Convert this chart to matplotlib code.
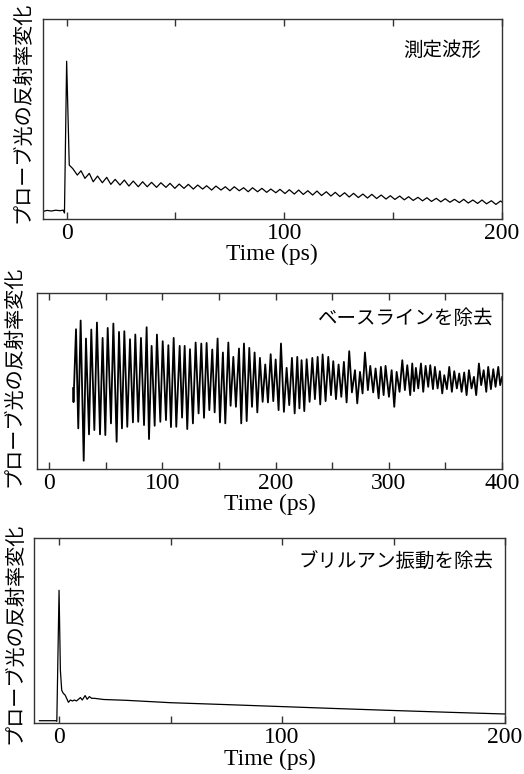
import matplotlib
matplotlib.use('Agg')
import matplotlib.pyplot as plt
from matplotlib.ticker import MultipleLocator

# --- panel 1: measured waveform (arb. units) ---
t_raw = [-11, -9, -7, -5, -3, -1.6, -1.0, 0.0, 1.2, 2.8, 4.9, 6.6, 8.4, 10.4, 12.2, 14.2,
         16.4, 18.4, 20.3, 22.3, 24.5, 26.5, 28.6, 30.6, 32.9, 34.9, 37.0, 39.0, 41.3, 43.3,
         45.6, 47.5, 49.7, 51.7, 53.9, 55.9, 58.2, 60.2, 62.5, 64.3, 66.6, 68.6, 70.9, 72.9,
         75.0, 77.0, 79.3, 81.3, 83.4, 85.4, 87.7, 89.7, 91.9, 93.8, 96.1, 98.0,
         100.3, 102.3, 104.6, 106.6, 108.7, 110.8, 113.0, 115.0, 117.1, 119.3, 121.4, 123.4,
         125.5, 127.7, 129.8, 131.8, 134.0, 136.1, 138.2, 140.2, 142.4, 144.5, 146.7, 148.7,
         150.8, 153.0, 155.1, 157.1, 159.2, 161.4, 163.5, 165.5, 167.6, 169.8, 171.9, 173.9,
         176.1, 178.2, 180.4, 182.4, 184.5, 186.6, 188.8, 190.8, 192.9, 195.1, 197.2, 199.3, 200]
r_raw = [7.5, 8.6, 8.0, 8.8, 8.3, 8.9, 6.0, 158, 54, 50.5, 44, 48.3, 40.7, 45.7, 37.3, 43,
         36.3, 41.7, 34.7, 39.7, 34, 39, 33, 38, 32.3, 37.3, 32.3, 36.7, 31.7, 36.3,
         31.7, 35.7, 30.7, 35, 30.7, 34.7, 30, 34, 30, 33.3, 29, 33, 29, 32.3,
         28.3, 32.3, 28.3, 31.3, 27.3, 31.3, 27.3, 30.7, 26.7, 30, 26.3, 29.7,
         25.5, 29.3, 25, 29, 24.6, 28.3, 24, 28, 23.5, 27.3, 23, 26.7,
         22.5, 26.3, 22, 25.7, 21.5, 25, 21, 24.7, 20.5, 24, 20, 23.3,
         19.6, 23, 19.2, 22.3, 18.6, 21.7, 18.2, 21.3, 17.6, 20.7, 17.2, 20.3,
         16.8, 19.7, 16.4, 19.7, 16, 19, 15.6, 19, 15.2, 18.3, 14.6, 18, 17]

# --- panel 2: baseline removed (extrema) ---
t_osc = [21.0, 21.4, 23.6, 25.6, 27.7, 30.4, 32.4, 35.1, 37.1, 39.8, 42.1, 44.8, 47.1, 49.5,
         51.6, 54.5, 56.6, 59.5, 61.6, 64.2, 66.3, 68.9, 71.3, 73.9, 76.0, 78.6, 81.0, 83.7,
         86.0, 88.1, 90.4, 93.1, 95.1, 98.1, 100.2, 103.1, 105.2, 107.5, 109.9, 112.2, 115.2,
         117.3, 119.6, 121.9, 124.3, 126.9, 129.3, 131.9, 134.3, 136.7, 139.0, 141.4, 144.0,
         146.1, 148.7, 150.8, 153.4, 155.5, 158.2, 160.2, 162.6, 164.9, 167.6, 169.6, 172.0,
         174.4, 176.7, 179.1, 181.4, 183.8, 186.1, 188.5, 190.8, 193.2, 195.6, 197.9, 200.0,
         202.6, 204.7, 207.3, 209.7, 212.0, 214.4, 216.8, 219.1, 221.0, 222.9, 225.3, 227.4,
         230.0, 232.4, 234.7, 237.1, 239.4, 241.5, 244.1, 246.5, 248.9, 250.9, 253.3, 255.6,
         258.0, 260.3, 262.7, 265.0, 267.4, 270.1, 272.1, 274.5, 276.8, 278.9, 281.5, 283.6,
         286.2, 288.3, 291.0, 293.0, 295.4, 297.1, 300.1, 302.5, 304.8, 306.9, 309.5, 311.9,
         314.2, 316.3, 318.9, 320.7, 322.3, 323.9, 326.0, 328.4, 330.4, 332.5, 334.8, 336.6,
         339.0, 340.7, 343.1, 345.1, 347.2, 349.0, 351.3, 353.4, 355.7, 357.8, 360.1, 362.2,
         364.3, 366.6, 368.7, 370.8, 373.1, 375.2, 377.2, 379.6, 381.6, 383.8, 386.1, 387.8,
         390.2, 392.3, 394.3, 396.7, 398.4, 400.0]
r_osc = [-8, -22, 51, -48.3, 59.7, -80.7, 41.7, -54.3, 50.7, -50, 57.7, -54.3, 42.3, -55,
         52.3, -43.3, 56.7, -61.7, 48.3, -48.3, 49, -46.7, 41, -42.3, 45.7, -41.7, 42.3, -45,
         53, -59, 34.3, -45.7, 45.7, -41.7, 39, -40, 35, -47, 42.3, -46.7, 34.3,
         -37.5, 34.3, -49, 31, -43.3, 37.7, -33.3, 36.7, -37.7, 37.3, -30, 30.7,
         -32.3, 41.7, -42.3, 27.7, -43.3, 37.7, -25.7, 23.3, -26.7, 31.7, -43.3, 36.7,
         -41, 32.3, -26.7, 27.7, -32.3, 22.3, -21.7, 15.7, -22.3, 26, -21, 20.7,
         -30, 36.7, -31.7, 12.3, -25, 22.3, -33.3, 23.3, -28.3, 20, -31, 21,
         -21.7, 22.3, -19, 23.3, -24.3, 25.7, -21, 23.3, -15, 19, -19, 15.7,
         -16.7, 18.3, -22.3, 29, -12.3, 10, -23.3, 8.3, -13.3, 27.7, -10, 14.3,
         -12.3, 11.7, -18.3, 13.3, -15, 14.3, -16.7, 10, -26.7, 8.3, -11.7, 20,
         -10, 15, -15, 16.7, -11, 12.3, -8.3, 16.7, -11.7, 14.3, -6.7, 15,
         -9, 13.3, -8.3, 9, -13.3, 5, -9, 13.3, -11.7, 9, -8.3, 6.7,
         -11.7, 7.7, -15, 10, -8.3, 3.3, -15, 16.7, -5, 10, -11.7, 13.3,
         -9, 11, -6.7, 13.3, -5, 3]

# --- panel 3: Brillouin oscillation removed ---
t_fit = [-8.8, -5, -1.5, -1.0, 0.0, 0.6, 1.2, 1.9, 2.7, 3.4, 4.2, 5.1, 6.0, 6.9, 7.8, 8.7,
         9.6, 10.4, 11.7, 12.6, 13.6, 14.6, 15.8, 20, 30, 50, 75, 100, 125, 150, 175, 200]
r_fit = [2.6, 2.6, 2.6, 2.0, 133, 53, 33, 30, 28.3, 25, 21, 23.3, 22.3, 23.3, 22.3, 24,
         25.7, 23.3, 27.7, 24, 26.7, 25, 25, 23.8, 23, 20.6, 18.7, 16.7, 14.7, 12.8, 11, 9.3]

ylabel = 'プローブ光の反射率変化'
xlabel = 'Time (ps)'
jp = ['Noto Sans CJK JP', 'DejaVu Sans']
serif = 'Liberation Serif'

fig = plt.figure(figsize=(5.24, 7.74), dpi=100)
W, H = 524.0, 774.0


def make_axes(left, top, right, bottom):
    return fig.add_axes([left / W, 1 - bottom / H, (right - left) / W, (bottom - top) / H])


panels = [
    dict(box=(42.7, 19.3, 502, 219), t=t_raw, r=r_raw, xlim=(-11, 200), ylim=(0, 200),
         lw=0.9, text='測定波形', tx=0.954, ty=0.846, lab=(23, 112), ticks=[0, 100, 200]),
    dict(box=(37.3, 293.3, 502, 469), t=t_osc, r=r_osc, xlim=(-10.6, 400), ylim=(-89, 87),
         lw=1.3, text='ベースラインを除去', tx=0.981, ty=0.859, lab=(14, 376.5),
         ticks=[0, 100, 200, 300, 400]),
    dict(box=(34.3, 538.3, 505, 723.3), t=t_fit, r=r_fit, xlim=(-11.1, 200), ylim=(0, 185),
         lw=0.9, text='ブリルアン振動を除去', tx=0.975, ty=0.872, lab=(15, 633), ticks=[0, 100, 200]),
]

for p in panels:
    ax = make_axes(*p['box'])
    ax.plot(p['t'], p['r'], color='black', lw=p['lw'], solid_joinstyle='round')
    ax.set_xlim(*p['xlim'])
    ax.set_ylim(*p['ylim'])
    ax.set_yticks([])
    ax.set_xticks(p['ticks'])
    ax.xaxis.set_minor_locator(MultipleLocator(50))
    ax.tick_params(axis='x', which='both', direction='in', top=True, length=5, width=1,
                   color='#333333', pad=3)
    for lbl in ax.get_xticklabels():
        lbl.set_family(serif)
        lbl.set_fontsize(17)
    for s in ax.spines.values():
        s.set_color('#333333')
        s.set_linewidth(1.0)
    ax.set_xlabel(xlabel, family=serif, fontsize=17, labelpad=0)
    ax.text(p['tx'], p['ty'], p['text'], transform=ax.transAxes, ha='right', va='center',
            family=jp, fontsize=14)
    fig.text(p['lab'][0] / W, 1 - p['lab'][1] / H, ylabel, rotation=90, ha='center',
             va='center', family=jp, fontsize=14.5)

fig.savefig('out.png', dpi=100)
